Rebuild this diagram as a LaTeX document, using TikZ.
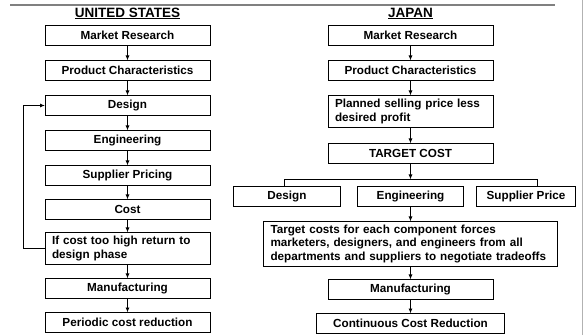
\documentclass[tikz,border=0pt]{standalone}
\usepackage{fontspec}
\setmainfont{Liberation Sans}
\usepackage{tikz}
\usetikzlibrary{arrows.meta, positioning}

% underlined heading text with a heavier rule
\newcommand{\ultext}[1]{\setbox0\hbox{#1}\leavevmode\rlap{\rule[-2.2pt]{\wd0}{1.2pt}}\box0}

\begin{document}
\begin{tikzpicture}[
    node distance=15pt,
    every node/.style={font=\bfseries\fontsize{11.7}{13.5}\selectfont},
    box/.style={rectangle, draw=black, line width=0.9pt, fill=white, minimum width=165pt, minimum height=20pt, inner sep=2pt, outer sep=0pt, align=center},
    textbox/.style={rectangle, draw=black, line width=0.9pt, fill=white, text width=#1, inner xsep=7pt, inner ysep=3pt, outer sep=0pt, align=left},
    title/.style={inner sep=0pt, font=\bfseries\fontsize{13.5}{15}\selectfont},
    arrow/.style={-{Latex[length=5pt, width=4pt]}, line width=0.9pt}
]
\useasboundingbox (0,0) rectangle (584pt,335pt);
\draw[gray, line width=2pt] (10pt,330pt) -- (555pt,330pt);
\draw[gray!60, line width=0.7pt] (582pt,0pt) -- (582pt,335pt);

% United States
\node[box] (usmr) at (127.5pt,299.5pt) {Market Research};
\node[box, below=of usmr] (uspc) {Product Characteristics};
\node[box, below=of uspc] (usdes) {Design};
\node[box, below=of usdes] (useng) {Engineering};
\node[box, below=of useng] (ussup) {Supplier Pricing};
\node[box, below=14pt of ussup] (uscost) {Cost};
\node[textbox=151pt, minimum height=32pt, below=13pt of uscost] (usback) {If cost too high return to\\design phase};
\node[box, below=14pt of usback] (usman) {Manufacturing};
\node[box, below=14pt of usman] (usred) {Periodic cost reduction};
\node[title, above=6pt of usmr] (ustitle) {\ultext{UNITED STATES}};

% Japan
\node[box] (jpmr) at (410.5pt,299.5pt) {Market Research};
\node[box, below=of jpmr] (jppc) {Product Characteristics};
\node[textbox=151pt, minimum height=32pt, below=of jppc] (jpprice) {Planned selling price less\\desired profit};
\node[box, below=16pt of jpprice] (jptc) {TARGET COST};
\node[box, minimum width=106pt, below=23pt of jptc] (jpeng) {Engineering};
\node[box, minimum width=107pt, left=17pt of jpeng] (jpdes) {Design};
\node[box, minimum width=99pt, right=13pt of jpeng] (jpsup) {Supplier Price};
\node[textbox=280pt, minimum height=45pt, below=15pt of jpeng] (jpcomp) {Target costs for each component forces\\marketers, designers, and engineers from all\\departments and suppliers to negotiate tradeoffs};
\node[box, below=13pt of jpcomp] (jpman) {Manufacturing};
\node[box, minimum width=188pt, below=14pt of jpman] (jpred) {Continuous Cost Reduction};
\node[title, above=6pt of jpmr] (jptitle) {\ultext{JAPAN}};
\coordinate[below=16pt of jptc] (jpbar);

\draw[arrow] (usmr) -- (uspc);
\draw[arrow] (uspc) -- (usdes);
\draw[arrow] (usdes) -- (useng);
\draw[arrow] (useng) -- (ussup);
\draw[arrow] (ussup) -- (uscost);
\draw[arrow] (uscost) -- (usback);
\draw[arrow] (usback) -- (usman);
\draw[arrow] (usman) -- (usred);
\draw[arrow] (usback.west) -- ++(-22pt,0) |- (usdes.west);

\draw[arrow] (jpmr) -- (jppc);
\draw[arrow] (jppc) -- (jpprice);
\draw[arrow] (jpprice) -- (jptc);
\draw[arrow] (jptc) -- (jpbar);
\draw[line width=0.9pt] ([xshift=-2.5pt]jpdes.north) |- (jpbar) -| ([xshift=11.5pt]jpsup.north);
\draw[arrow] (jpeng) -- (jpcomp);
\draw[arrow] (jpcomp) -- (jpman);
\draw[arrow] (jpman) -- (jpred);
\end{tikzpicture}
\end{document}
